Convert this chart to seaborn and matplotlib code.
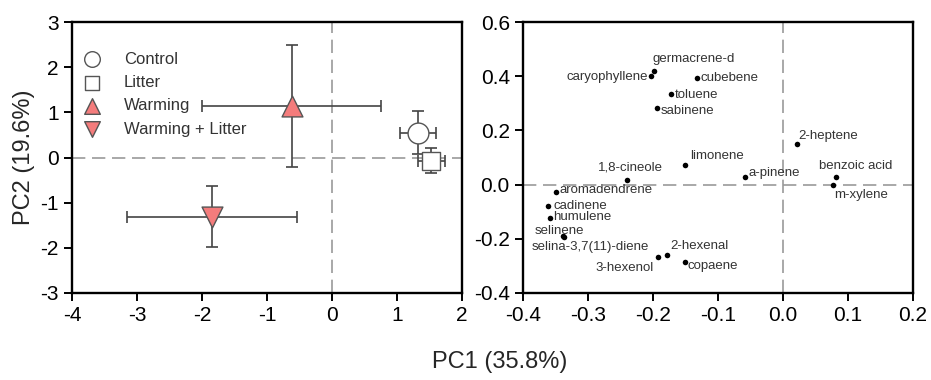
import numpy as np
import pandas as pd
import matplotlib
matplotlib.use("Agg")
import matplotlib.pyplot as plt
import seaborn as sns

# Left panel: treatment means with SE
groups = ["Control", "Litter", "Warming", "Warming + Litter"]
pc1_mean = [1.32, 1.53, -0.62, -1.85]
pc2_mean = [0.55, -0.07, 1.13, -1.31]
pc1_err = [0.28, 0.21, 1.38, 1.31]
pc2_err = [0.47, 0.27, 1.35, 0.68]

# Right panel: compound loadings
compounds = ["germacrene-d", "caryophyllene", "cubebene", "toluene", "sabinene",
             "2-heptene", "limonene", "1,8-cineole", "a-pinene", "benzoic acid",
             "m-xylene", "aromadendrene", "cadinene", "humulene", "selinene",
             "selina-3,7(11)-diene", "2-hexenal", "3-hexenol", "copaene"]
load_x = [-0.198, -0.203, -0.132, -0.173, -0.194, 0.021, -0.151, -0.240, -0.058,
          0.081, 0.077, -0.349, -0.362, -0.358, -0.338, -0.337, -0.178, -0.193, -0.151]
load_y = [0.420, 0.400, 0.393, 0.334, 0.283, 0.150, 0.074, 0.018, 0.028,
          0.028, -0.003, -0.027, -0.078, -0.123, -0.188, -0.193, -0.259, -0.267, -0.287]

grp = pd.DataFrame({"group": groups, "pc1": pc1_mean, "pc2": pc2_mean,
                    "e1": pc1_err, "e2": pc2_err})
load = pd.DataFrame({"compound": compounds, "x": load_x, "y": load_y})

# label offsets in pixels (dx, dy, ha)
offsets = {
    "germacrene-d": (-2, 12, "left"), "caryophyllene": (-3, -1, "right"),
    "cubebene": (3, 0, "left"), "toluene": (4, -1, "left"), "sabinene": (4, -3, "left"),
    "2-heptene": (2, 8, "left"), "limonene": (5, 9, "left"), "1,8-cineole": (3, 12, "center"),
    "a-pinene": (3, 4, "left"), "benzoic acid": (20, 11, "center"), "m-xylene": (1, -10, "left"),
    "aromadendrene": (3, 2, "left"), "cadinene": (6, 0, "left"), "humulene": (3, 1, "left"),
    "selinene": (-4, 5, "center"), "selina-3,7(11)-diene": (26, -10, "center"),
    "2-hexenal": (3, 9, "left"), "3-hexenol": (-4, -11, "right"), "copaene": (3, -4, "left"),
}

sns.set_style("ticks")
plt.rcParams["font.family"] = ["Liberation Sans", "DejaVu Sans"]
plt.rcParams["axes.linewidth"] = 1.7
plt.rcParams["axes.unicode_minus"] = False

fig = plt.figure(figsize=(9.31, 3.80), dpi=100)
ax1 = fig.add_axes([72 / 931, 87 / 380, 390 / 931, 271 / 380])
ax2 = fig.add_axes([523 / 931, 87 / 380, 390 / 931, 271 / 380])

edge = "#555555"
pink = "#F47C7C"
styles = {"Control": ("o", "white", 15), "Litter": ("s", "white", 13),
          "Warming": ("^", pink, 15), "Warming + Litter": ("v", pink, 15)}

for ax in (ax1, ax2):
    ax.axhline(0, color="#999999", lw=1.2, ls=(0, (8, 4)), zorder=0)
    ax.axvline(0, color="#999999", lw=1.2, ls=(0, (8, 4)), zorder=0)

ax1.errorbar(grp["pc1"], grp["pc2"], xerr=grp["e1"], yerr=grp["e2"], fmt="none",
             ecolor="#444444", elinewidth=1.2, capsize=4, capthick=1.2, zorder=2)
for _, r in grp.iterrows():
    m, fc, s = styles[r["group"]]
    sns.scatterplot(x=[r["pc1"]], y=[r["pc2"]], ax=ax1, marker=m, s=s ** 2,
                    color=fc, edgecolor=edge, linewidth=1.0, label=r["group"], zorder=3)

leg = ax1.legend(loc="upper left", frameon=False, fontsize=12, markerscale=0.75,
                 handletextpad=0.9, labelspacing=0.5, borderaxespad=0.4,
                 bbox_to_anchor=(-0.025, 0.94))
for t in leg.get_texts():
    t.set_color("#333333")

ax1.set_xlim(-4, 2)
ax1.set_ylim(-3, 3)
ax1.set_xticks(range(-4, 3))
ax1.set_yticks(range(-3, 4))
ax1.set_ylabel("PC2 (19.6%)", fontsize=17, labelpad=4)

sns.scatterplot(data=load, x="x", y="y", ax=ax2, color="black", s=16,
                edgecolor="black", linewidth=0, zorder=3)
for _, r in load.iterrows():
    dx, dy, ha = offsets[r["compound"]]
    ax2.annotate(r["compound"], (r["x"], r["y"]), xytext=(dx * 0.72, dy * 0.72),
                 textcoords="offset points", ha=ha, va="center", fontsize=9.5,
                 color="#333333")

ax2.set_xlim(-0.4, 0.2)
ax2.set_ylim(-0.4, 0.6)
ax2.set_xticks(np.round(np.arange(-0.4, 0.21, 0.1), 1) + 0.0)
ax2.set_yticks(np.round(np.arange(-0.4, 0.61, 0.2), 1) + 0.0)
fmt = matplotlib.ticker.FuncFormatter(lambda v, p: "%.1f" % (round(v, 1) + 0.0))
ax2.xaxis.set_major_formatter(fmt)
ax2.yaxis.set_major_formatter(fmt)
ax2.set_xlabel("")
ax2.set_ylabel("")
ax1.set_xlabel("")

for ax in (ax1, ax2):
    for sp in ax.spines.values():
        sp.set_visible(True)
        sp.set_color("black")
    ax.tick_params(direction="out", length=6, width=1.4, labelsize=15, colors="black",
                   top=False, right=False)

fig.text(500 / 931, 1 - 362 / 380, "PC1 (35.8%)", ha="center", va="center", fontsize=17)

fig.savefig("out.png", dpi=100)
